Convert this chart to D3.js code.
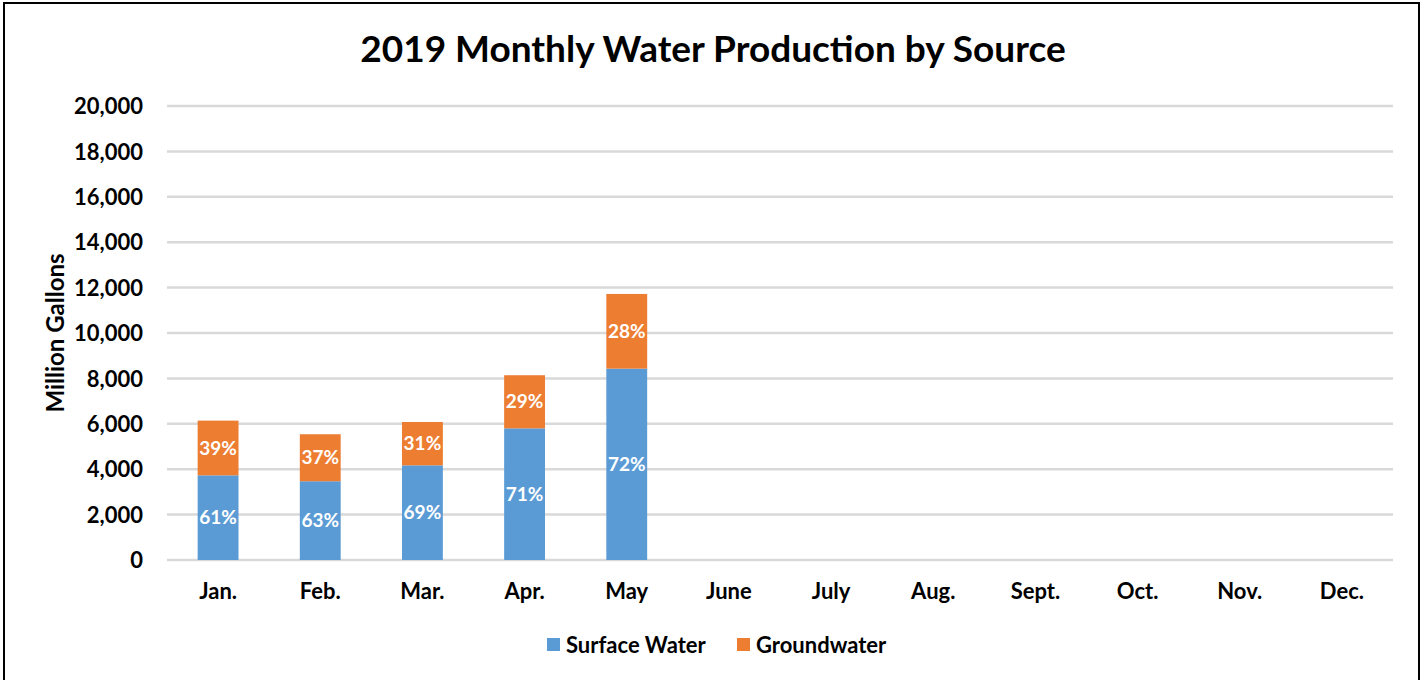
<!DOCTYPE html>
<html>
<head>
<meta charset="utf-8">
<script src="https://cdn.jsdelivr.net/npm/d3@7"></script>
<style>
  body { margin: 0; background: #fff; }
  svg { display: block; font-family: Lato, "Open Sans", sans-serif; font-weight: bold; }
</style>
</head>
<body>
<div id="chart"></div>
<script>
// Chart data
const months = ['Jan.', 'Feb.', 'Mar.', 'Apr.', 'May', 'June', 'July', 'Aug.', 'Sept.', 'Oct.', 'Nov.', 'Dec.'];
const surfaceWater = [3730, 3470, 4170, 5800, 8430];
const groundwater = [2410, 2070, 1910, 2340, 3290];
const yTicks = [0, 2000, 4000, 6000, 8000, 10000, 12000, 14000, 16000, 18000, 20000];
const seriesNames = ['Surface Water', 'Groundwater'];
const colors = ['#5B9BD5', '#ED7D31'];

const width = 1427, height = 680;
const margin = { top: 106, right: 34, bottom: 120, left: 167 };

const svg = d3.select('#chart').append('svg')
    .attr('width', width)
    .attr('height', height);

// outer frame
svg.append('rect')
    .attr('x', 4).attr('y', 3)
    .attr('width', 1415).attr('height', 700)
    .attr('fill', 'none')
    .attr('stroke', '#000')
    .attr('stroke-width', 2);

const x = d3.scaleBand()
    .domain(months)
    .range([margin.left, width - margin.right])
    .paddingInner(0.6)
    .paddingOuter(0.3);

const y = d3.scaleLinear()
    .domain([0, 20000])
    .range([height - margin.bottom, margin.top]);

// gridlines
svg.append('g')
    .selectAll('line')
    .data(yTicks)
    .enter()
    .append('line')
    .attr('x1', margin.left)
    .attr('x2', width - margin.right)
    .attr('y1', d => y(d))
    .attr('y2', d => y(d))
    .attr('stroke', '#D9D9D9')
    .attr('stroke-width', 2.5);

// y axis labels
const yAxis = svg.append('g')
    .attr('transform', `translate(${margin.left - 24},0)`)
    .call(d3.axisLeft(y).tickValues(yTicks).tickFormat(d3.format(',')).tickSize(0).tickPadding(0));
yAxis.select('.domain').remove();
yAxis.selectAll('text')
    .attr('font-family', 'Lato, sans-serif')
    .attr('font-weight', 'bold')
    .attr('font-size', 22)
    .attr('fill', '#000')
    .attr('dy', '0.35em');

// x axis labels
const xAxis = svg.append('g')
    .attr('transform', `translate(0,${y(0)})`)
    .call(d3.axisBottom(x).tickSize(0).tickPadding(23));
xAxis.select('.domain').remove();
xAxis.selectAll('text')
    .attr('font-family', 'Lato, sans-serif')
    .attr('font-weight', 'bold')
    .attr('font-size', 22)
    .attr('fill', '#000');

// stacked bars
const rows = surfaceWater.map((s, i) => ({ month: months[i], surface: s, ground: groundwater[i] }));
const stack = d3.stack().keys(['surface', 'ground']);
const layers = stack(rows);

layers.forEach((layer, li) => {
    const g = svg.append('g');
    g.selectAll('rect')
        .data(layer)
        .enter()
        .append('rect')
        .attr('x', d => x(d.data.month))
        .attr('width', x.bandwidth())
        .attr('y', d => y(d[1]))
        .attr('height', d => y(d[0]) - y(d[1]))
        .attr('fill', colors[li]);

    g.selectAll('text')
        .data(layer)
        .enter()
        .append('text')
        .attr('x', d => x(d.data.month) + x.bandwidth() / 2)
        .attr('y', d => (y(d[0]) + y(d[1])) / 2)
        .attr('dy', '0.35em')
        .attr('text-anchor', 'middle')
        .attr('fill', '#fff')
        .attr('font-size', 19)
        .text(d => {
            const total = d.data.surface + d.data.ground;
            return Math.round((d[1] - d[0]) / total * 100) + '%';
        });
});

// title
svg.append('text')
    .attr('x', 713)
    .attr('y', 62)
    .attr('text-anchor', 'middle')
    .attr('font-size', 37)
    .attr('fill', '#000')
    .text('2019 Monthly Water Production by Source');

// y axis title
svg.append('text')
    .attr('transform', `translate(64,${(y(0) + y(20000)) / 2}) rotate(-90)`)
    .attr('text-anchor', 'middle')
    .attr('font-size', 24)
    .attr('fill', '#000')
    .text('Million Gallons');

// legend
const legendItems = [
    { name: seriesNames[0], color: colors[0], x: 547 },
    { name: seriesNames[1], color: colors[1], x: 737 }
];
const legend = svg.append('g');
legendItems.forEach(item => {
    legend.append('rect')
        .attr('x', item.x)
        .attr('y', 638)
        .attr('width', 13)
        .attr('height', 13)
        .attr('fill', item.color);
    legend.append('text')
        .attr('x', item.x + 19)
        .attr('y', 645)
        .attr('dy', '0.35em')
        .attr('font-size', 22)
        .attr('fill', '#000')
        .text(item.name);
});
</script>
</body>
</html>
